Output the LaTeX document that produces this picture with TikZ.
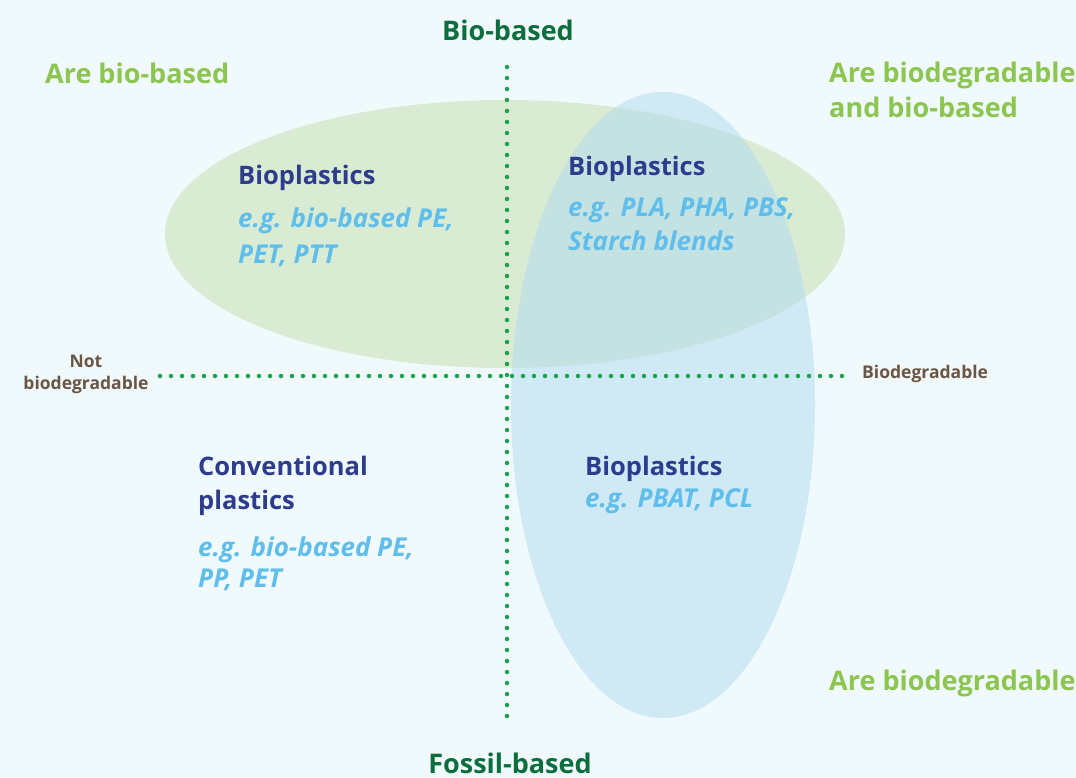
\documentclass[tikz,border=0pt]{standalone}
\usepackage{fontspec}
\setmainfont{Open Sans}
\usetikzlibrary{positioning}
\definecolor{bgblue}{RGB}{240,249,252}
\definecolor{axisgreen}{RGB}{26,161,74}
\definecolor{darkgreen}{RGB}{12,110,60}
\definecolor{lightgreen}{RGB}{140,198,80}
\definecolor{brownlabel}{RGB}{107,85,67}
\definecolor{headblue}{RGB}{45,60,140}
\definecolor{egblue}{RGB}{95,190,235}
\definecolor{ellgreen}{RGB}{200,225,180}
\definecolor{ellblue}{RGB}{180,220,240}
\tikzstyle{axis} = [draw=axisgreen, line width=4.5pt, line cap=round, dash pattern=on 0pt off 11pt]
\tikzstyle{pole} = [font=\fontsize{27}{30}\selectfont\bfseries, text=darkgreen, inner sep=0pt]
\tikzstyle{quad} = [font=\fontsize{27}{35}\selectfont\bfseries, text=lightgreen, anchor=west, align=left, inner sep=0pt]
\tikzstyle{sidelabel} = [font=\fontsize{17.5}{22}\selectfont\bfseries, text=brownlabel, inner sep=0pt]
\tikzstyle{head} = [font=\fontsize{25.5}{34}\selectfont\bfseries, text=headblue, anchor=west, align=left, inner sep=0pt]
\tikzstyle{example} = [font=\fontsize{26}{35}\selectfont\bfseries\itshape, text=egblue, anchor=north west, align=left, inner sep=0pt]

\begin{document}
\begin{tikzpicture}[x=1pt, y=-1pt]
  \fill[bgblue] (0,0) rectangle (1076,778);
  \useasboundingbox (0,0) rectangle (1076,778);

  % sets
  \fill[ellgreen, opacity=0.55] (505,234) ellipse [x radius=340, y radius=134];
  \fill[ellblue, opacity=0.55] (663,405) ellipse [x radius=152, y radius=313];

  % axes
  \coordinate (top) at (507,67);
  \coordinate (bottom) at (507,726);
  \coordinate (left) at (160,376);
  \coordinate (right) at (845,376);
  \draw[axis] (top) -- (bottom);
  \draw[axis] (left) -- (right);

  \node (biobased) [pole] at (508,30) {Bio-based};
  \node (fossil) [pole] at (510,763) {Fossil-based};
  \node (notbio) [sidelabel, align=center] at (86,374) {Not\\biodegradable};
  \node (biodeg) [sidelabel, anchor=west] at (862,374) {Biodegradable};

  % quadrant captions
  \node (q1) [quad] at (45,73) {Are bio-based};
  \node (q2) [quad] at (829,90) {Are biodegradable\\and bio-based};
  \node (q4) [quad] at (829,683) {Are biodegradable};

  % boxes
  \node (bioA) [head] at (238,178) {Bioplastics};
  \node (bioAeg) [example, font=\fontsize{26}{36}\selectfont\bfseries\itshape, below=17pt of bioA.south west, anchor=north west] {e.g. bio-based PE,\\PET, PTT};
  \node (bioB) [head] at (568,169) {Bioplastics};
  \node (bioBeg) [example, font=\fontsize{26}{34}\selectfont\bfseries\itshape, below=16pt of bioB.south west, anchor=north west] {e.g. PLA, PHA, PBS,\\Starch blends};
  \node (bioC) [head] at (585,469) {Bioplastics};
  \node (bioCeg) [example, below=6pt of bioC.south west, anchor=north west] {e.g. PBAT, PCL};
  \node (conv) [head] at (198,486) {Conventional\\plastics};
  \node (conveg) [example, font=\fontsize{26}{31}\selectfont\bfseries\itshape, below=21pt of conv.south west, anchor=north west] {e.g. bio-based PE,\\PP, PET};
\end{tikzpicture}
\end{document}
